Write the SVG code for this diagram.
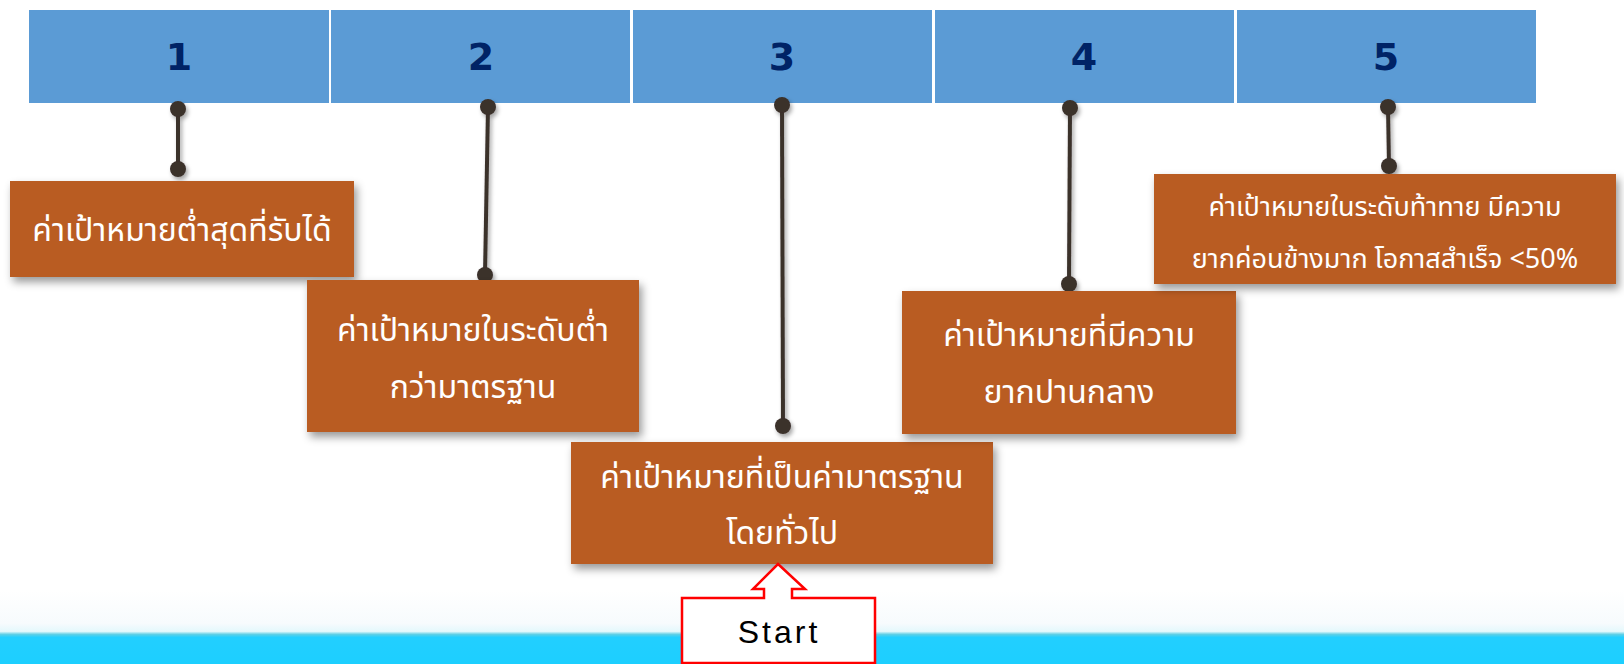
<svg xmlns="http://www.w3.org/2000/svg" width="1624" height="664" viewBox="0 0 1624 664">
<defs>
<linearGradient id="band" x1="0" y1="0" x2="0" y2="1">
<stop offset="0" stop-color="#FFFFFF"/>
<stop offset="0.45" stop-color="#F7FBFD"/>
<stop offset="0.56" stop-color="#E4F8FC"/>
<stop offset="0.6" stop-color="#5FCFE6"/>
<stop offset="0.64" stop-color="#22CFFF"/>
<stop offset="1" stop-color="#1DCFFF"/>
</linearGradient>
<filter id="sh" x="-10%" y="-10%" width="130%" height="140%">
<feDropShadow dx="3" dy="5" stdDeviation="4" flood-color="#000" flood-opacity="0.4"/>
</filter>
<filter id="lsh" x="-200%" y="-10%" width="500%" height="130%">
<feDropShadow dx="2" dy="3" stdDeviation="2" flood-color="#000" flood-opacity="0.35"/>
</filter>
<style>
.cell{fill:#5B9BD5}
.num{font-family:"DejaVu Sans","Liberation Sans",sans-serif;font-weight:bold;font-size:38px;fill:#002366;text-anchor:middle}
.box{fill:#B95B23;filter:url(#sh)}
.t{font-family:"Noto Sans Thai","DejaVu Sans","Noto Sans",sans-serif;font-size:32px;fill:#FFFFFF;text-anchor:middle}
.t5{font-size:27px}
.ln{stroke:#3B302B;stroke-width:4;fill:none}
.dot{fill:#3B302B}
.start{font-family:"Liberation Sans",sans-serif;font-size:32px;fill:#000;text-anchor:middle;letter-spacing:3px}
</style>
</defs>
<rect x="0" y="0" width="1624" height="664" fill="#FFFFFF"/>
<rect x="0" y="590" width="1624" height="74" fill="url(#band)"/>
<g id="header">
<g id="cell1"><rect class="cell" x="29" y="10" width="300" height="93"/><text class="num" x="179" y="70">1</text></g>
<g id="cell2"><rect class="cell" x="331" y="10" width="299" height="93"/><text class="num" x="481" y="70">2</text></g>
<g id="cell3"><rect class="cell" x="633" y="10" width="299" height="93"/><text class="num" x="782" y="70">3</text></g>
<g id="cell4"><rect class="cell" x="935" y="10" width="299" height="93"/><text class="num" x="1084" y="70">4</text></g>
<g id="cell5"><rect class="cell" x="1237" y="10" width="299" height="93"/><text class="num" x="1386" y="70">5</text></g>
</g>
<g id="connectors" filter="url(#lsh)">
<line class="ln" x1="178" y1="109" x2="178" y2="169"/>
<circle class="dot" cx="178" cy="109" r="8"/><circle class="dot" cx="178" cy="169" r="8"/>
<line class="ln" x1="488" y1="107" x2="485" y2="275"/>
<circle class="dot" cx="488" cy="107" r="8"/><circle class="dot" cx="485" cy="275" r="8"/>
<line class="ln" x1="782" y1="105" x2="783" y2="426"/>
<circle class="dot" cx="782" cy="105" r="8"/><circle class="dot" cx="783" cy="426" r="8"/>
<line class="ln" x1="1070" y1="108" x2="1069" y2="284"/>
<circle class="dot" cx="1070" cy="108" r="8"/><circle class="dot" cx="1069" cy="284" r="8"/>
<line class="ln" x1="1388" y1="107" x2="1389" y2="166"/>
<circle class="dot" cx="1388" cy="107" r="8"/><circle class="dot" cx="1389" cy="166" r="8"/>
</g>
<g id="box1"><rect class="box" x="10" y="181" width="344" height="96"/><text class="t" x="182" y="241">ค่าเป้าหมายต่ำสุดที่รับได้</text></g>
<g id="box2"><rect class="box" x="307" y="280" width="332" height="152"/><text class="t" x="473" y="341">ค่าเป้าหมายในระดับต่ำ</text><text class="t" x="473" y="398">กว่ามาตรฐาน</text></g>
<g id="box3"><rect class="box" x="571" y="442" width="422" height="122"/><text class="t" x="782" y="488">ค่าเป้าหมายที่เป็นค่ามาตรฐาน</text><text class="t" x="782" y="544">โดยทั่วไป</text></g>
<g id="box4"><rect class="box" x="902" y="291" width="334" height="143"/><text class="t" x="1069" y="346">ค่าเป้าหมายที่มีความ</text><text class="t" x="1069" y="403">ยากปานกลาง</text></g>
<g id="box5"><rect class="box" x="1154" y="174" width="462" height="110"/><text class="t t5" x="1385" y="216">ค่าเป้าหมายในระดับท้าทาย มีความ</text><text class="t t5" x="1385" y="268">ยากค่อนข้างมาก โอกาสสำเร็จ &lt;50%</text></g>
<g id="start">
<path d="M778,564 L805,589 L792,589 L792,598 L875,598 L875,663 L682,663 L682,598 L764,598 L764,589 L753,589 Z" fill="#FFFFFF" stroke="#FF0000" stroke-width="2.5"/>
<text class="start" x="779" y="643">Start</text>
</g>
</svg>
